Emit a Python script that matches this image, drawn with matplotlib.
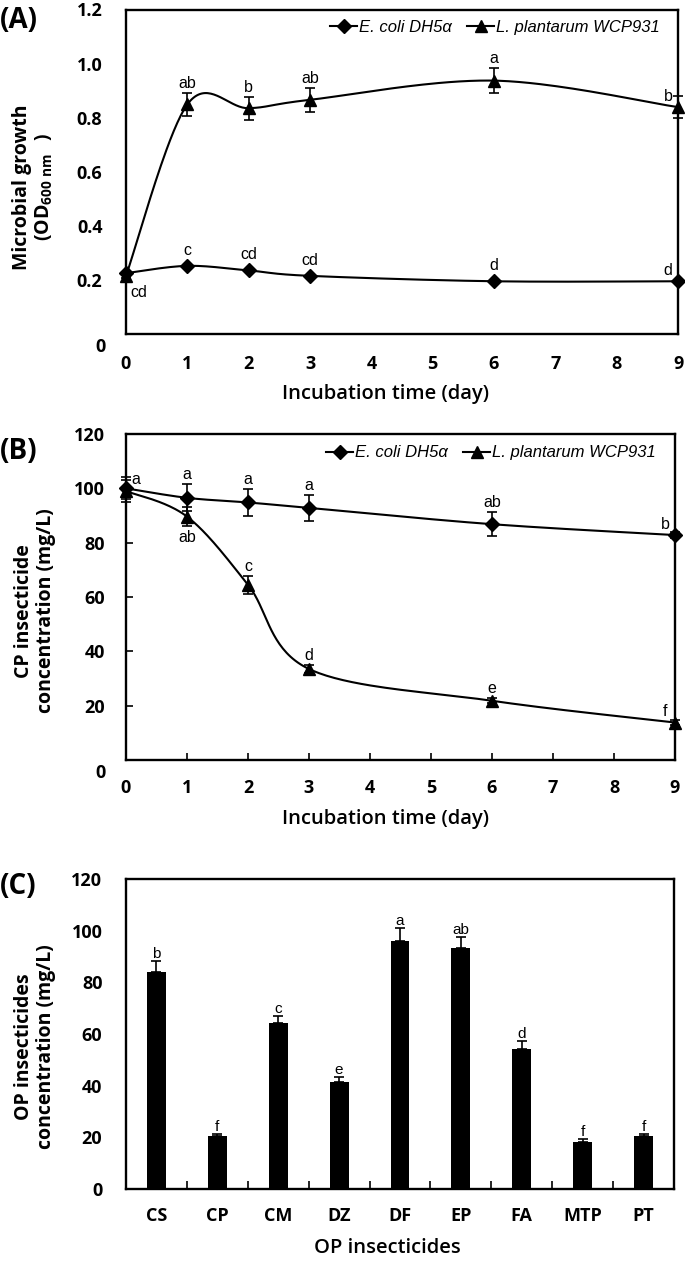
import numpy as np
import matplotlib
matplotlib.use('Agg')
import matplotlib.pyplot as plt
from matplotlib.lines import Line2D

# ---------------- data ----------------
days = [0, 1, 2, 3, 6, 9]

ecoli_od = [0.225, 0.252, 0.235, 0.215, 0.195, 0.195]
ecoli_od_err = [0.004, 0.005, 0.004, 0.004, 0.004, 0.004]
lp_od = [0.215, 0.849, 0.835, 0.866, 0.937, 0.839]
lp_od_err = [0.008, 0.043, 0.042, 0.045, 0.047, 0.040]
ecoli_od_letters = ['cd', 'c', 'cd', 'cd', 'd', 'd']
lp_od_letters = ['', 'ab', 'b', 'ab', 'a', 'b']

ecoli_cp = [100.0, 96.5, 94.8, 92.8, 86.8, 82.8]
ecoli_cp_err = [4.0, 5.0, 5.0, 4.7, 4.4, 1.0]
lp_cp = [99.0, 89.6, 64.5, 33.5, 21.8, 13.8]
lp_cp_err = [4.0, 3.5, 3.3, 1.5, 1.0, 0.8]
ecoli_cp_letters = ['a', 'a', 'a', 'a', 'ab', 'b']
lp_cp_letters = ['', 'ab', 'c', 'd', 'e', 'f']

insecticides = ['CS', 'CP', 'CM', 'DZ', 'DF', 'EP', 'FA', 'MTP', 'PT']
op_conc = [84.1, 20.5, 64.3, 41.3, 96.1, 93.3, 54.3, 18.2, 20.5]
op_err = [4.2, 0.9, 2.8, 2.2, 4.8, 4.4, 2.8, 1.0, 0.9]
op_letters = ['b', 'f', 'c', 'e', 'a', 'ab', 'd', 'f', 'f']

series_names = ['E. coli DH5\u03b1', 'L. plantarum WCP931']

# ---------------- style ----------------
W, H = 685, 1263
BOLD = ['Open Sans', 'DejaVu Sans']
LET = ['Liberation Sans', 'DejaVu Sans']
LEG = ['Liberation Sans Narrow', 'Liberation Sans', 'DejaVu Sans']
plt.rcParams['mathtext.fontset'] = 'custom'
plt.rcParams['mathtext.bf'] = 'Open Sans:bold'
plt.rcParams['mathtext.rm'] = 'Open Sans'

fig = plt.figure(figsize=(W / 100, H / 100), dpi=100)


def ax_px(left, top, right, bottom):
    return fig.add_axes([left / W, 1 - bottom / H, (right - left) / W, (bottom - top) / H])


def excel_smooth(x, y, n=40):
    pts = np.column_stack([np.asarray(x, float), np.asarray(y, float)])
    P = np.vstack([pts[0], pts, pts[-1]])
    out = []
    t = np.linspace(0, 1, n)[:, None]
    for i in range(len(pts) - 1):
        p0, p1, p2, p3 = P[i], P[i + 1], P[i + 2], P[i + 3]
        c1 = p1 + (p2 - p0) / 6
        c2 = p2 - (p3 - p1) / 6
        seg = (1 - t) ** 3 * p1 + 3 * (1 - t) ** 2 * t * c1 + 3 * (1 - t) * t ** 2 * c2 + t ** 3 * p2
        out.append(seg if i == 0 else seg[1:])
    return np.vstack(out)


def frame(ax):
    for s in ax.spines.values():
        s.set_linewidth(1.7)
        s.set_color('black')


def letter(ax, x, y, err, s, mode, size=11.5):
    if not s:
        return
    if mode == 'above':
        ax.annotate(s, xy=(x, y + err), xytext=(0, 2), textcoords='offset pixels',
                    ha='center', va='bottom', fontsize=size, family=LET)
    elif mode == 'abovep':  # small error, above marker
        ax.annotate(s, xy=(x, y), xytext=(0, 8), textcoords='offset pixels',
                    ha='center', va='bottom', fontsize=size, family=LET)
    elif mode == 'below':
        ax.annotate(s, xy=(x, y - err), xytext=(0, -4), textcoords='offset pixels',
                    ha='center', va='top', fontsize=size, family=LET)
    elif mode == 'belowright':
        ax.annotate(s, xy=(x, y), xytext=(13, -19), textcoords='offset pixels',
                    ha='center', va='center', fontsize=size, family=LET)
    elif mode == 'upleft':
        ax.annotate(s, xy=(x, y), xytext=(-10, 11), textcoords='offset pixels',
                    ha='center', va='center', fontsize=size, family=LET)
    elif mode == 'upright':
        ax.annotate(s, xy=(x, y), xytext=(10, 9), textcoords='offset pixels',
                    ha='center', va='center', fontsize=size, family=LET)


def line_panel(ax, y1, e1, y2, e2, ylim, yticks, yfmt, l1, l2, m1, m2, legend_anchor, ticks_on):
    for yy, ee, mk in ((y1, e1, 'D'), (y2, e2, '^')):
        sm = excel_smooth(days, yy)
        ax.plot(sm[:, 0], sm[:, 1], color='black', lw=1.5, zorder=3, clip_on=False)
        ax.errorbar(days, yy, yerr=ee, fmt='none', ecolor='black', elinewidth=1.2,
                    capsize=3.5, capthick=1.2, zorder=4, clip_on=False)
        ax.plot(days, yy, ls='none', marker=mk, color='black',
                markersize=7.5 if mk == 'D' else 9, zorder=5, clip_on=False)
    ax.set_xlim(0, 9)
    ax.set_ylim(*ylim)
    ax.set_xticks(range(10))
    ax.set_xticklabels([str(i) for i in range(10)], fontsize=13, fontweight='bold', family=BOLD)
    ax.set_yticks(yticks)
    ax.set_yticklabels([yfmt.format(v) for v in yticks], fontsize=13, fontweight='bold', family=BOLD)
    tl = 5 if ticks_on else 0
    ax.tick_params(axis='x', direction='in', length=tl, width=1.2, pad=15 if not ticks_on else 14)
    ax.tick_params(axis='y', direction='in', length=tl, width=1.2, pad=17 if not ticks_on else 15)
    ax.annotate('0', xy=(0, 0), xycoords=('axes fraction', 'data'), xytext=(-20, -13),
                textcoords='offset pixels', ha='right', va='center', fontsize=13,
                fontweight='bold', family=BOLD)
    frame(ax)
    for x, yy, ee, s, m in zip(days, y1, e1, l1, m1):
        letter(ax, x, yy, ee, s, m)
    for x, yy, ee, s, m in zip(days, y2, e2, l2, m2):
        letter(ax, x, yy, ee, s, m)
    handles = [Line2D([], [], color='black', lw=1.5, marker='D', markersize=7),
               Line2D([], [], color='black', lw=1.5, marker='^', markersize=8)]
    ax.legend(handles, series_names, loc='center right', bbox_to_anchor=legend_anchor,
              ncol=2, frameon=False, handlelength=1.65, handletextpad=0.1,
              columnspacing=0.9, borderpad=0, borderaxespad=0,
              prop={'family': LEG, 'style': 'italic', 'size': 12})
    ax.set_xlabel('Incubation time (day)', fontsize=14.5, fontweight='semibold', family=BOLD,
                  va='center')


# ---------------- panel A ----------------
axA = ax_px(126, 9.5, 678, 334)
line_panel(axA, ecoli_od, ecoli_od_err, lp_od, lp_od_err, (0, 1.2),
           [0.2, 0.4, 0.6, 0.8, 1.0, 1.2], '{:.1f}',
           ecoli_od_letters, lp_od_letters,
           ['belowright', 'abovep', 'abovep', 'abovep', 'abovep', 'upleft'],
           ['', 'above', 'above', 'above', 'above', 'upleft'],
           (0.967, 0.946), False)
axA.xaxis.set_label_coords((385 - 126) / 552, -(394 - 334) / 324.5)
axA.set_ylabel('Microbial growth\n' + r'$\mathbf{(OD}_{\mathbf{600\ nm}}\ \ \mathbf{)}$',
               fontsize=14, fontweight='bold', family=BOLD, linespacing=1.1)
axA.yaxis.set_label_coords(-(126 - 55) / 552, (334 - 187) / 324.5)

# ---------------- panel B ----------------
axB = ax_px(126, 434, 675, 760)
line_panel(axB, ecoli_cp, ecoli_cp_err, lp_cp, lp_cp_err, (0, 120),
           [20, 40, 60, 80, 100, 120], '{:d}',
           ecoli_cp_letters, lp_cp_letters,
           ['upright', 'above', 'above', 'above', 'above', 'upleft'],
           ['', 'below', 'above', 'above', 'above', 'upleft'],
           (0.965, 0.942), True)
axB.xaxis.set_label_coords((385 - 126) / 549, -(819 - 760) / 326)
axB.set_ylabel('CP insecticide\nconcentration (mg/L)', fontsize=14, fontweight='bold',
               family=BOLD, linespacing=1.1)
axB.yaxis.set_label_coords(-(126 - 56) / 549, (760 - 611) / 326)

# ---------------- panel C ----------------
axC = ax_px(126, 879, 674, 1189)
xc = np.arange(len(insecticides))
axC.bar(xc, op_conc, width=0.31, color='black', zorder=3)
axC.errorbar(xc, op_conc, yerr=[np.zeros(len(op_err)), op_err], fmt='none', ecolor='black',
             elinewidth=1.2, capsize=3.5, capthick=1.2, zorder=4)
for x, v, e, s in zip(xc, op_conc, op_err, op_letters):
    axC.annotate(s, xy=(x, v + e), xytext=(0, 0), textcoords='offset pixels', ha='center',
                 va='bottom', fontsize=11, family=LET)
axC.set_xlim(-0.5, len(insecticides) - 0.5)
axC.set_ylim(0, 120)
axC.set_yticks(range(0, 121, 20))
axC.set_yticklabels([str(v) for v in range(0, 121, 20)], fontsize=13, fontweight='bold', family=BOLD)
axC.set_xticks(xc)
axC.set_xticklabels(insecticides, fontsize=13, fontweight='bold', family=BOLD)
axC.set_xticks(np.arange(0.5, len(insecticides) - 1, 1.0), minor=True)
axC.tick_params(axis='x', which='major', length=0, pad=13)
axC.tick_params(axis='x', which='minor', direction='in', length=6, width=1.2)
axC.tick_params(axis='y', length=0, pad=17)
frame(axC)
axC.set_xlabel('OP insecticides', fontsize=14.5, fontweight='semibold', family=BOLD, va='center')
axC.xaxis.set_label_coords((387 - 126) / 548, -(1248 - 1189) / 310)
axC.set_ylabel('OP insecticides\nconcentration (mg/L)', fontsize=14, fontweight='bold',
               family=BOLD, linespacing=1.1)
axC.yaxis.set_label_coords(-(126 - 56) / 548, (1189 - 1047) / 310)

# panel letters
for lab, yc in (('(A)', 20), ('(B)', 452), ('(C)', 887)):
    fig.text(0 / W, 1 - yc / H, lab, fontsize=20, fontweight='bold', family=BOLD,
             ha='left', va='center')

fig.savefig('out.png', dpi=100)
